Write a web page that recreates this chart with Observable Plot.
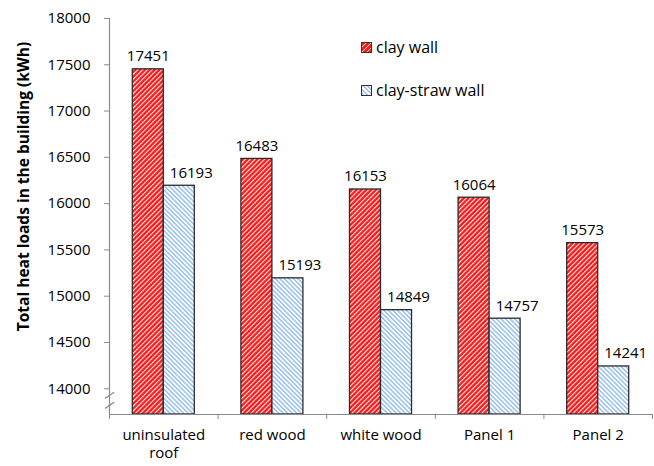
<!DOCTYPE html>
<html>
<head>
<meta charset="utf-8">
<script src="https://cdn.jsdelivr.net/npm/d3@7"></script>
<script src="https://cdn.jsdelivr.net/npm/@observablehq/plot@0.6"></script>
<style>
  html, body { margin: 0; padding: 0; background: #fff; }
  #wrap { position: relative; width: 654px; height: 466px; font-family: "Open Sans", sans-serif; }
  .legend { position: absolute; left: 361px; font-size: 16px; color: #000; display: flex; align-items: center; }
  .sw { width: 11px; height: 11px; border: 1px solid #333; margin-right: 4px; box-sizing: border-box; }
</style>
</head>
<body>
<div id="wrap">
  <div class="legend" style="top:36px"><span class="sw" style="background: repeating-linear-gradient(-45deg, #ff1a1a 0 2.4px, #fff 2.4px 3.4px);"></span>clay wall</div>
  <div class="legend" style="top:79px"><span class="sw" style="background: repeating-linear-gradient(45deg, #9ec4f0 0 1.6px, #fff 1.6px 3.2px);"></span>clay-straw wall</div>
</div>
<script>
const categories = ["uninsulated\nroof", "red wood", "white wood", "Panel 1", "Panel 2"];
const clayWall = [17451, 16483, 16153, 16064, 15573];
const clayStrawWall = [16193, 15193, 14849, 14757, 14241];
const yTicks = [14000, 14500, 15000, 15500, 16000, 16500, 17000, 17500, 18000];
const yMin = 13722, yMax = 18000;
const breakMarks = [13928, 13820];
const barFrac = 0.2855;
const yTitle = "Total heat loads in the building (kWh)";

const idx = categories.map((c, i) => i);
const clayData = idx.map(i => ({i, value: clayWall[i]}));
const strawData = idx.map(i => ({i, value: clayStrawWall[i]}));
const boundaries = [...idx.map(i => i - 0.5), categories.length - 0.5];
const axisGray = "#8a8a8a";

const plot = Plot.plot({
  width: 654,
  height: 466,
  marginLeft: 109,
  marginRight: 2,
  marginTop: 18,
  marginBottom: 52,
  style: {fontFamily: "Open Sans, sans-serif", background: "transparent", color: "#000"},
  x: {type: "linear", domain: [-0.5, categories.length - 0.5], axis: null},
  y: {domain: [yMin, yMax], axis: null},
  marks: [
    Plot.rectY(clayData, {x1: d => d.i - barFrac, x2: d => d.i, y1: yMin, y2: "value", fill: "url(#redHatch)", stroke: "#2b2b2b", strokeWidth: 1.3}),
    Plot.rectY(strawData, {x1: d => d.i, x2: d => d.i + barFrac, y1: yMin, y2: "value", fill: "url(#blueHatch)", stroke: "#2b2b2b", strokeWidth: 1.3}),
    Plot.text(clayData, {x: d => d.i - barFrac / 2, y: "value", text: d => String(d.value), lineAnchor: "bottom", dy: -8, fontSize: 15, fill: "#000"}),
    Plot.text(strawData, {x: d => d.i + barFrac / 2, y: "value", text: d => String(d.value), lineAnchor: "bottom", dy: -8, dx: 12, fontSize: 15, fill: "#000"}),
    Plot.ruleY([yMin], {stroke: axisGray, strokeWidth: 1.2}),
    Plot.ruleX([-0.5], {y1: yMin, y2: yMax, stroke: axisGray, strokeWidth: 1.2}),
    Plot.axisY({ticks: yTicks, tickFormat: d => String(d), tickSize: 5, tickPadding: 14, fontSize: 15, stroke: axisGray, label: null}),
    Plot.axisX({ticks: boundaries, tickFormat: () => "", tickSize: 5, stroke: axisGray, label: null}),
    Plot.axisX({ticks: idx, tickFormat: i => categories[i], tickSize: 0, tickPadding: 13, fontSize: 15, lineHeight: 1.2, label: null}),
    Plot.link(breakMarks, {x1: -0.5 - 0.042, x2: -0.5 + 0.042, y1: d => d - 34, y2: d => d + 34, stroke: axisGray, strokeWidth: 1.3}),
    Plot.text([yTitle], {frameAnchor: "left", textAnchor: "middle", dx: -85, dy: -30, rotate: -90, fontSize: 15.5, fontWeight: "bold", fill: "#000"})
  ]
});

const ns = "http://www.w3.org/2000/svg";
const defs = document.createElementNS(ns, "defs");
defs.innerHTML = `
  <pattern id="redHatch" patternUnits="userSpaceOnUse" width="3.4" height="3.4" patternTransform="rotate(45)">
    <rect width="3.4" height="3.4" fill="#ff1a1a"></rect>
    <rect width="1.0" height="3.4" fill="#ffffff"></rect>
  </pattern>
  <pattern id="blueHatch" patternUnits="userSpaceOnUse" width="3.2" height="3.2" patternTransform="rotate(-45)">
    <rect width="3.2" height="3.2" fill="#ffffff"></rect>
    <rect width="1.6" height="3.2" fill="#9ec4f0"></rect>
  </pattern>`;
plot.insertBefore(defs, plot.firstChild);
plot.style.position = "absolute";
plot.style.left = "0";
plot.style.top = "0";
document.getElementById("wrap").prepend(plot);
</script>
</body>
</html>
